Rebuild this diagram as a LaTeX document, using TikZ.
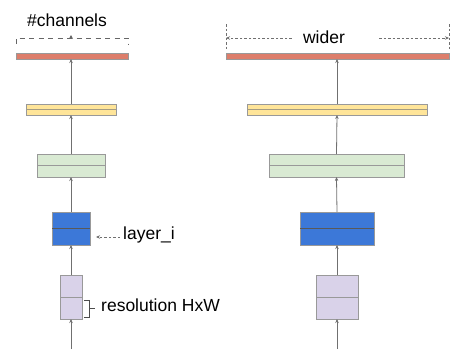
\documentclass[tikz,border=0pt]{standalone}
\usepackage{fontspec}
\setmainfont{Liberation Sans}
\usetikzlibrary{arrows.meta}

\definecolor{boxgray}{HTML}{999999}
\definecolor{arrgray}{HTML}{707070}
\definecolor{redfill}{HTML}{DD7E6B}
\definecolor{yellowfill}{HTML}{FFE599}
\definecolor{greenfill}{HTML}{D9EAD3}
\definecolor{bluefill}{HTML}{3C78D8}
\definecolor{purplefill}{HTML}{D9D2E9}

\tikzset{
  layer/.style={draw=boxgray, line width=1pt, inner sep=0pt, outer sep=0pt},
  uparr/.style={draw=arrgray, line width=0.8pt, -{Stealth[length=4pt,width=3.5pt]}},
  dasharr/.style={draw=arrgray, line width=0.7pt, dash pattern=on 2.5pt off 2pt, -{Stealth[length=4pt,width=3.5pt]}},
  lbl/.style={inner sep=0pt, font=\fontsize{17.5}{20}\selectfont}
}

\begin{document}
\begin{tikzpicture}[x=1pt,y=-1pt]

    % fix the page size
    \useasboundingbox (0,0) rectangle (451,349);

    % left network
    \node[layer, fill=purplefill, minimum width=22pt, minimum height=44pt] (p1) at (71,297) {};
    \node[layer, fill=bluefill,   minimum width=38pt, minimum height=33pt] (b1) at (71,228.5) {};
    \node[layer, fill=greenfill,  minimum width=68pt, minimum height=23pt] (g1) at (71,165.5) {};
    \node[layer, fill=yellowfill, minimum width=90pt, minimum height=11pt] (y1) at (71,109.5) {};
    \node[layer, fill=redfill,    minimum width=112pt, minimum height=6pt] (r1) at (72,56) {};

    % right network (wider)
    \node[layer, fill=purplefill, minimum width=42pt, minimum height=44pt] (p2) at (337,297) {};
    \node[layer, fill=bluefill,   minimum width=74pt, minimum height=33pt] (b2) at (337,228.5) {};
    \node[layer, fill=greenfill,  minimum width=135pt, minimum height=23pt] (g2) at (336.5,165.5) {};
    \node[layer, fill=yellowfill, minimum width=180pt, minimum height=11pt] (y2) at (337,109.5) {};
    \node[layer, fill=redfill,    minimum width=223pt, minimum height=6pt] (r2) at (337.5,56) {};

    % middle lines of the boxes
    \foreach \n in {1,2} {
        \draw[boxgray, line width=1pt] (p\n.west) -- (p\n.east);
        \draw[black!65, line width=1.2pt] (b\n.west) -- (b\n.east);
        \draw[boxgray, line width=1pt] (g\n.west) -- (g\n.east);
        \draw[yellowfill!50!black!70, line width=1pt] (y\n.west) -- (y\n.east);
    }

    % inputs
    \coordinate (in1) at (71,349);
    \coordinate (in2) at (337,349);

    % flow arrows
    \foreach \n in {1,2} {
        \draw[uparr] (in\n) -- (p\n.south);
        \draw[uparr] (p\n.north) -- (b\n.south);
        \draw[uparr] (b\n.north) -- (g\n.south);
        \draw[uparr] (g\n.north) -- (y\n.south);
        \draw[uparr] (y\n.north) -- (r\n.south -| y\n.north);
    }

    % #channels bracket
    \draw[black!60, line width=1pt, dash pattern=on 5pt off 4.5pt] (16,44) -- (16,38) -- (128,38) -- (128,44);
    \coordinate (ch) at (71,39);
    \draw[black!60, line width=0.8pt, -{Stealth[length=4pt,width=4pt]}] (ch) -- ++(0,-4);
    \node[lbl, anchor=base] (chn) at (67,26) {\#channels};

    % wider arrows
    \node[lbl, anchor=base] (wd) at (324,43) {wider};
    \coordinate (wl) at (226,38);
    \coordinate (wr) at (449,38);
    \draw[arrgray, line width=0.7pt, dash pattern=on 2.5pt off 2pt] (226,24) -- (226,50);
    \draw[arrgray, line width=0.7pt, dash pattern=on 2.5pt off 2pt] (449,24) -- (449,50);
    \draw[dasharr, shorten <=11pt] (wd.west |- wl) -- (wl);
    \draw[dasharr, shorten <=34pt] (wd.east |- wr) -- (wr);

    % layer_i label
    \node[lbl, anchor=base west] (li) at (123,239) {layer\_i};
    \draw[dasharr, shorten >=6pt] ([xshift=-3pt]li.west |- 0,237) -- (b1.east |- 0,237);

    % resolution label
    \node[lbl, anchor=base west] (rs) at (101,311) {resolution HxW};
    \draw[black!70, line width=1pt] (84,300) -- (89,300) -- (89,317) -- (84,317);
    \draw[black!70, line width=1pt] (89,308.5) -- ([xshift=-6pt]rs.west |- 0,308.5);

\end{tikzpicture}
\end{document}
